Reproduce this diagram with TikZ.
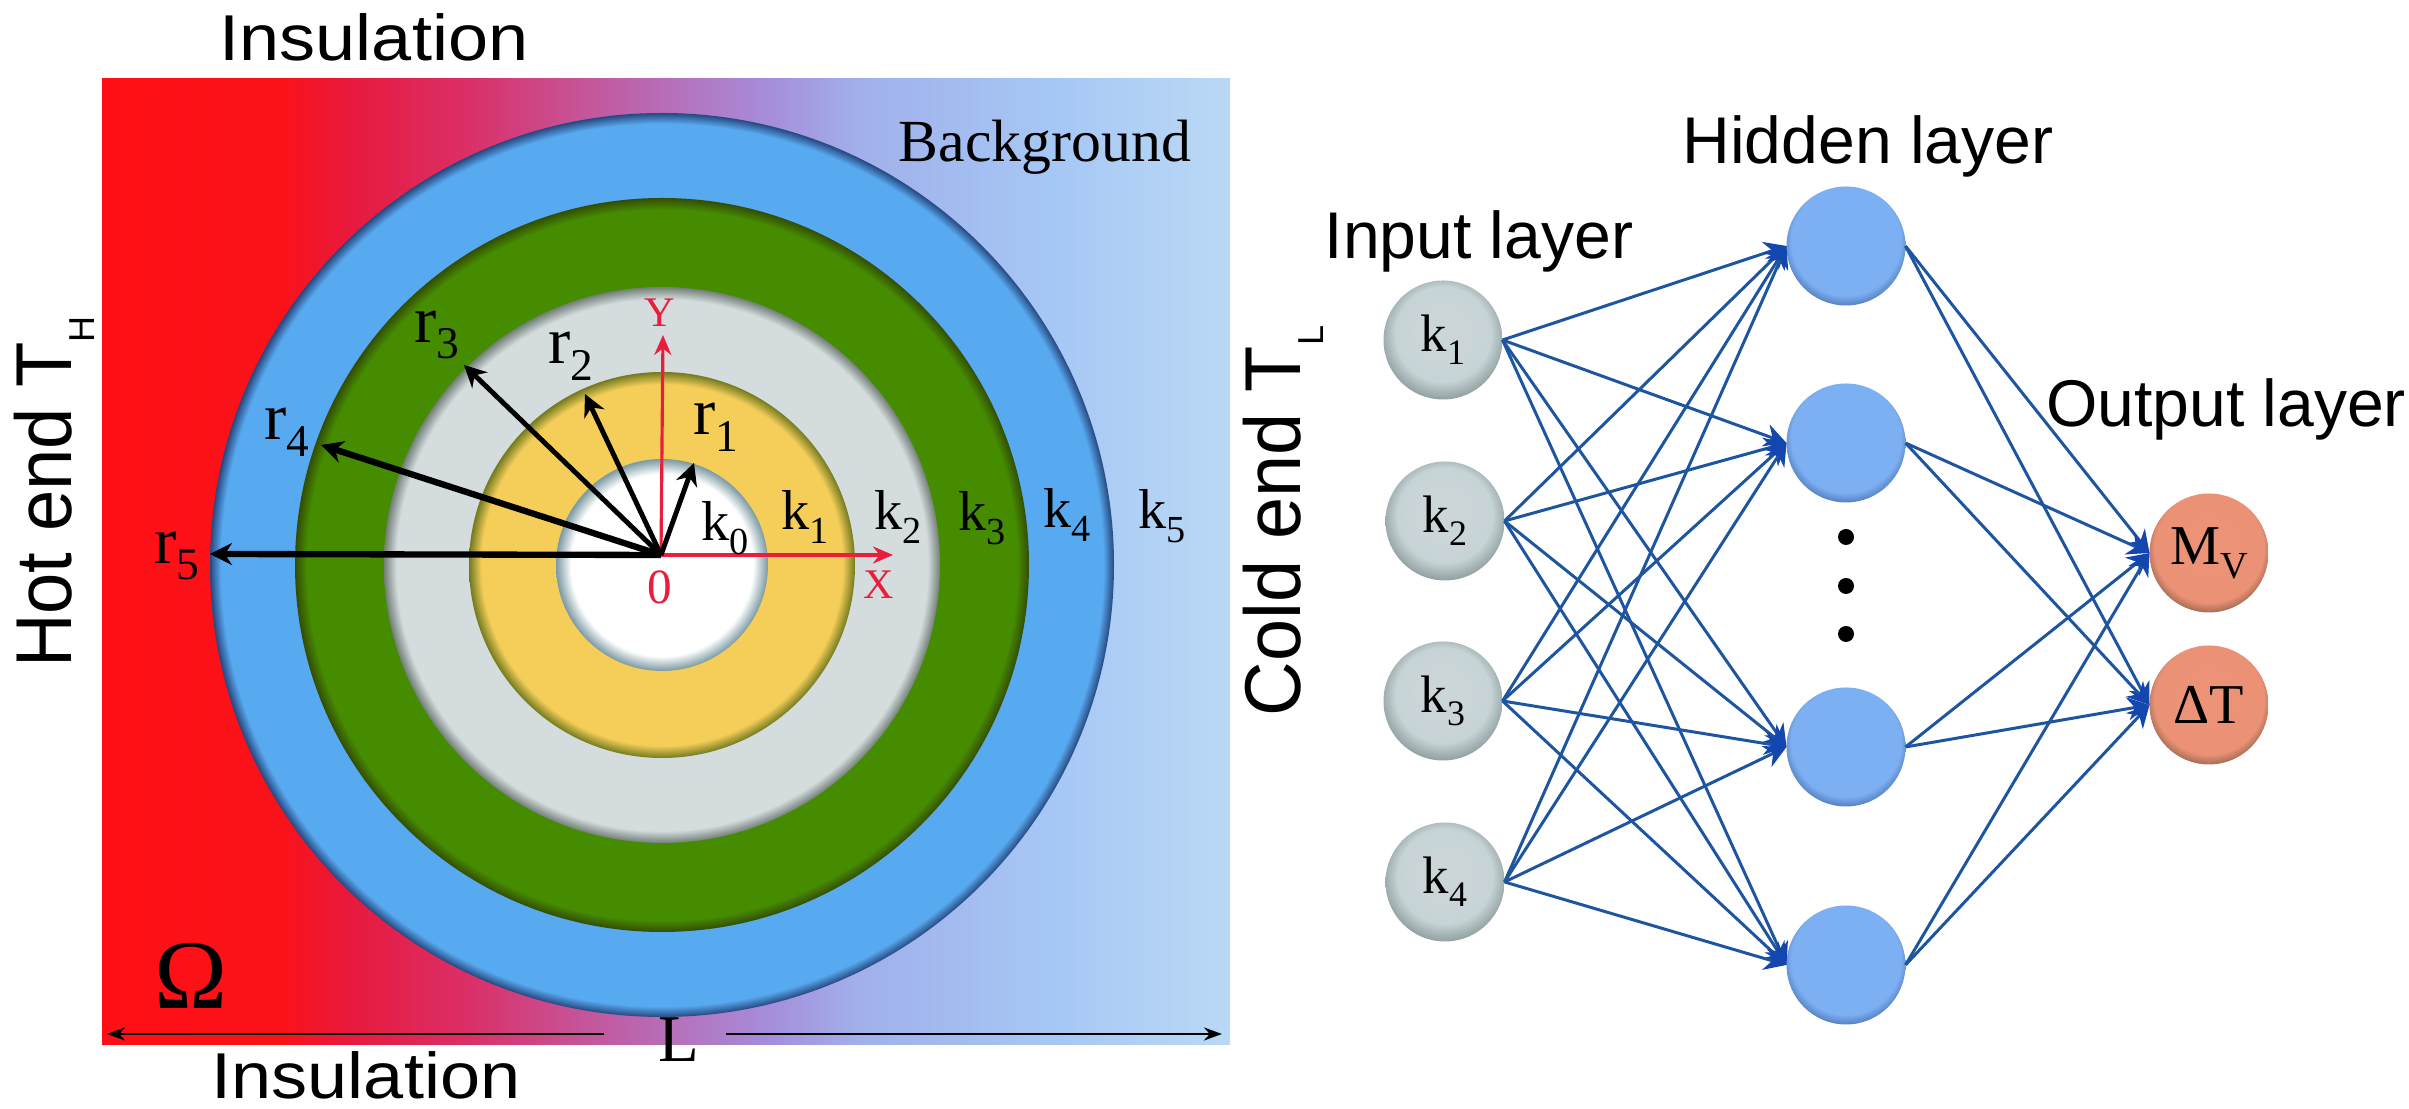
\documentclass[tikz,border=0pt]{standalone}
\usepackage{fontspec}
\setmainfont{Liberation Serif}
\setsansfont{Liberation Sans}
\usetikzlibrary{arrows.meta}

\definecolor{ringblue}{RGB}{88,170,240}
\definecolor{ringgreen}{RGB}{70,140,0}
\definecolor{ringgrey}{RGB}{212,220,222}
\definecolor{ringyellow}{RGB}{245,206,90}
\definecolor{linkblue}{RGB}{30,85,160}
\definecolor{tipblue}{RGB}{20,70,175}
\definecolor{axisred}{RGB}{232,30,60}

% low subscripts
\newcommand{\lowsub}[1]{\raisebox{-.25em}{\scalebox{.68}{#1}}}
\newcommand{\sidesub}[1]{\raisebox{-.32em}{\scalebox{.5}{#1}}}

% temperature field of the square
\pgfdeclarehorizontalshading{hotcold}{100bp}{
  rgb(0bp)=(1,.06,.08);
  rgb(25bp)=(1,.06,.08);
  rgb(33bp)=(.98,.07,.10);
  rgb(36bp)=(.91,.10,.24);
  rgb(41bp)=(.86,.18,.40);
  rgb(47.7bp)=(.75,.37,.65);
  rgb(54.5bp)=(.65,.55,.86);
  rgb(58.5bp)=(.63,.69,.92);
  rgb(67bp)=(.65,.78,.96);
  rgb(75bp)=(.73,.85,.96);
  rgb(100bp)=(.73,.85,.96)}

% discs, dark towards the rim
\pgfdeclareradialshading{blueshade}{\pgfpoint{0bp}{0bp}}{
  color(0bp)=(ringblue); color(24.4bp)=(ringblue); rgb(25bp)=(.15,.28,.50); rgb(50bp)=(.15,.28,.50)}
\pgfdeclareradialshading{greenshade}{\pgfpoint{0bp}{0bp}}{
  color(0bp)=(ringgreen); color(24.2bp)=(ringgreen); rgb(25bp)=(.20,.30,.02); rgb(50bp)=(.20,.30,.02)}
\pgfdeclareradialshading{greyshade}{\pgfpoint{0bp}{0bp}}{
  color(0bp)=(ringgrey); color(23.9bp)=(ringgrey); rgb(25bp)=(.45,.50,.47); rgb(50bp)=(.45,.50,.47)}
\pgfdeclareradialshading{yellowshade}{\pgfpoint{0bp}{0bp}}{
  color(0bp)=(ringyellow); color(23.4bp)=(ringyellow); rgb(25bp)=(.45,.48,.12); rgb(50bp)=(.45,.48,.12)}
\pgfdeclareradialshading{whiteshade}{\pgfpoint{0bp}{0bp}}{
  rgb(0bp)=(1,1,1); rgb(21.5bp)=(1,1,1); rgb(25bp)=(.48,.60,.64); rgb(50bp)=(.48,.60,.64)}

% neurons, shadow at the lower edge
\pgfdeclareradialshading{inshade}{\pgfpoint{0bp}{4bp}}{
  rgb(0bp)=(.80,.84,.85); rgb(20bp)=(.78,.83,.84); rgb(29bp)=(.50,.56,.56); rgb(50bp)=(.50,.56,.56)}
\pgfdeclareradialshading{hidshade}{\pgfpoint{0bp}{4bp}}{
  rgb(0bp)=(.49,.69,.95); rgb(23bp)=(.49,.69,.95); rgb(29bp)=(.25,.40,.65); rgb(50bp)=(.25,.40,.65)}
\pgfdeclareradialshading{outshade}{\pgfpoint{0bp}{4bp}}{
  rgb(0bp)=(.93,.58,.47); rgb(23bp)=(.92,.57,.46); rgb(29bp)=(.50,.34,.26); rgb(50bp)=(.50,.34,.26)}

\tikzset{
  neuron/.style={circle,minimum size=1.19cm,inner sep=0pt,outer sep=0pt},
  innode/.style={neuron,shading=inshade,font=\fontsize{15}{15}\selectfont},
  hidnode/.style={neuron,shading=hidshade},
  outnode/.style={neuron,shading=outshade,font=\fontsize{16}{16}\selectfont},
  link/.style={linkblue,line width=0.85pt,-{Stealth[length=0.22cm,width=0.23cm,color=tipblue]}},
  radius/.style={black,line width=1.4pt,-{Stealth[length=0.22cm,width=0.22cm]}},
  axis/.style={axisred,line width=0.9pt,-{Stealth[length=0.2cm,width=0.17cm]}},
  span/.style={black,line width=0.8pt,-{Stealth[length=0.18cm,width=0.13cm]}},
  head/.style={font=\sffamily\fontsize{18.8}{20}\selectfont,inner sep=0pt},
  bigside/.style={font=\sffamily\fontsize{20.5}{22}\selectfont,inner sep=0pt},
  ringtext/.style={font=\fontsize{16}{16}\selectfont,inner sep=0pt},
  radtext/.style={font=\fontsize{19}{19}\selectfont,inner sep=0pt},
  axistext/.style={axisred,inner sep=0pt}
}

\begin{document}
\begin{tikzpicture}
\useasboundingbox (0,0) rectangle (24.09,11.09);

\shade [shading=hotcold] (1.02,0.64) rectangle (12.30,10.30);

\shade [shading=blueshade] (6.62,5.44) circle (4.52);
\shade [shading=greenshade] (6.62,5.44) circle (3.67);
\shade [shading=greyshade] (6.62,5.44) circle (2.78);
\shade [shading=yellowshade] (6.62,5.44) circle (1.93);
\shade [shading=whiteshade] (6.62,5.44) circle (1.06);

\coordinate (o) at (6.61,5.54);
\coordinate (xtip) at (8.93,5.54);
\coordinate (ytip) at (6.63,7.74);
\coordinate (r1tip) at (6.94,6.46);
\coordinate (r2tip) at (5.85,7.15);
\coordinate (r3tip) at (4.64,7.44);
\coordinate (r4tip) at (3.21,6.64);
\coordinate (r5tip) at (2.10,5.55);

\draw [axis] (o) -- (xtip);
\draw [axis] (o) -- (ytip);
\draw [radius] (o) -- (r1tip);
\draw [radius] (o) -- (r2tip);
\draw [radius] (o) -- (r3tip);
\draw [radius,line width=1.8pt] (o) -- (r4tip);
\draw [radius,line width=1.8pt] (o) -- (r5tip);

\node [axistext,font=\fontsize{12}{12}\selectfont] (ylab) at (6.60,7.96) {Y};
\node [axistext,font=\fontsize{12}{12}\selectfont] (xlab) at (8.79,5.24) {X};
\node [axistext,font=\fontsize{14}{14}\selectfont] (olab) at (6.60,5.22) {0};

\node [radtext] (r1) at (7.16,6.82) {r\lowsub{1}};
\node [radtext] (r2) at (5.71,7.53) {r\lowsub{2}};
\node [radtext] (r3) at (4.37,7.74) {r\lowsub{3}};
\node [radtext] (r4) at (2.87,6.77) {r\lowsub{4}};
\node [radtext] (r5) at (1.77,5.53) {r\lowsub{5}};

\node [ringtext] (k0) at (7.25,5.81) {k\lowsub{0}};
\node [ringtext] (k1) at (8.05,5.92) {k\lowsub{1}};
\node [ringtext] (k2) at (8.98,5.92) {k\lowsub{2}};
\node [ringtext] (k3) at (9.82,5.91) {k\lowsub{3}};
\node [ringtext] (k4) at (10.67,5.94) {k\lowsub{4}};
\node [ringtext] (k5) at (11.62,5.93) {k\lowsub{5}};

\node [inner sep=0pt,font=\fontsize{17}{17}\selectfont] (bg) at (10.45,9.62) {Background};
\node [inner sep=0pt,font=\fontsize{28}{28}\selectfont] (omega) at (1.91,1.33) {Ω};

\node [inner sep=0pt,font=\fontsize{19}{19}\selectfont] (lenlab) at (6.79,0.69) {L};
\coordinate (lstart) at (6.04,0.75);
\coordinate (lleft) at (1.07,0.75);
\coordinate (rstart) at (7.26,0.75);
\coordinate (lright) at (12.22,0.75);
\draw [span] (lstart) -- (lleft);
\draw [span] (rstart) -- (lright);

\node [bigside] (instop) at (3.74,10.72) {\scalebox{1}[.9]{Insulation}};
\node [bigside] (insbot) at (3.66,0.34) {\scalebox{1}[.9]{Insulation}};
\node [bigside,rotate=90,anchor=base] (hot) at (0.71,6.17) {\scalebox{1.03}[1.1]{Hot end T}\sidesub{H}};
\node [bigside,rotate=90,anchor=base] (cold) at (13.00,5.88) {\scalebox{1.05}[1.1]{Cold end T}\sidesub{L}};

\node [innode] (in1) at (14.43,7.69) {k\lowsub{1}};
\node [innode] (in2) at (14.45,5.88) {k\lowsub{2}};
\node [innode] (in3) at (14.43,4.08) {k\lowsub{3}};
\node [innode] (in4) at (14.45,2.27) {k\lowsub{4}};

\node [hidnode] (hid1) at (18.46,8.63) {};
\node [hidnode] (hid2) at (18.46,6.66) {};
\node [hidnode] (hid3) at (18.46,3.62) {};
\node [hidnode] (hid4) at (18.46,1.44) {};

\node [outnode] (mv) at (22.09,5.56) {M\lowsub{V}};
\node [outnode] (dt) at (22.09,4.04) {ΔT};

\node [circle,fill=black,minimum size=0.16cm,inner sep=0pt] (dot1) at (18.46,5.72) {};
\node [circle,fill=black,minimum size=0.16cm,inner sep=0pt] (dot2) at (18.46,5.23) {};
\node [circle,fill=black,minimum size=0.16cm,inner sep=0pt] (dot3) at (18.46,4.75) {};

\node [head] (inlab) at (14.79,8.68) {Input layer};
\node [head] (hidlab) at (18.68,9.63) {Hidden layer};
\node [head] (outlab) at (22.26,7.00) {Output layer};

\draw [link] (in1.east) -- (hid1.west);
\draw [link] (in1.east) -- (hid2.west);
\draw [link] (in1.east) -- (hid3.west);
\draw [link] (in1.east) -- (hid4.west);

\draw [link] (in2.east) -- (hid1.west);
\draw [link] (in2.east) -- (hid2.west);
\draw [link] (in2.east) -- (hid3.west);
\draw [link] (in2.east) -- (hid4.west);

\draw [link] (in3.east) -- (hid1.west);
\draw [link] (in3.east) -- (hid2.west);
\draw [link] (in3.east) -- (hid3.west);
\draw [link] (in3.east) -- (hid4.west);

\draw [link] (in4.east) -- (hid1.west);
\draw [link] (in4.east) -- (hid2.west);
\draw [link] (in4.east) -- (hid3.west);
\draw [link] (in4.east) -- (hid4.west);

\draw [link] (hid1.east) -- (mv.west);
\draw [link] (hid1.east) -- (dt.west);
\draw [link] (hid2.east) -- (mv.west);
\draw [link] (hid2.east) -- (dt.west);
\draw [link] (hid3.east) -- (mv.west);
\draw [link] (hid3.east) -- (dt.west);
\draw [link] (hid4.east) -- (mv.west);
\draw [link] (hid4.east) -- (dt.west);

\end{tikzpicture}
\end{document}
